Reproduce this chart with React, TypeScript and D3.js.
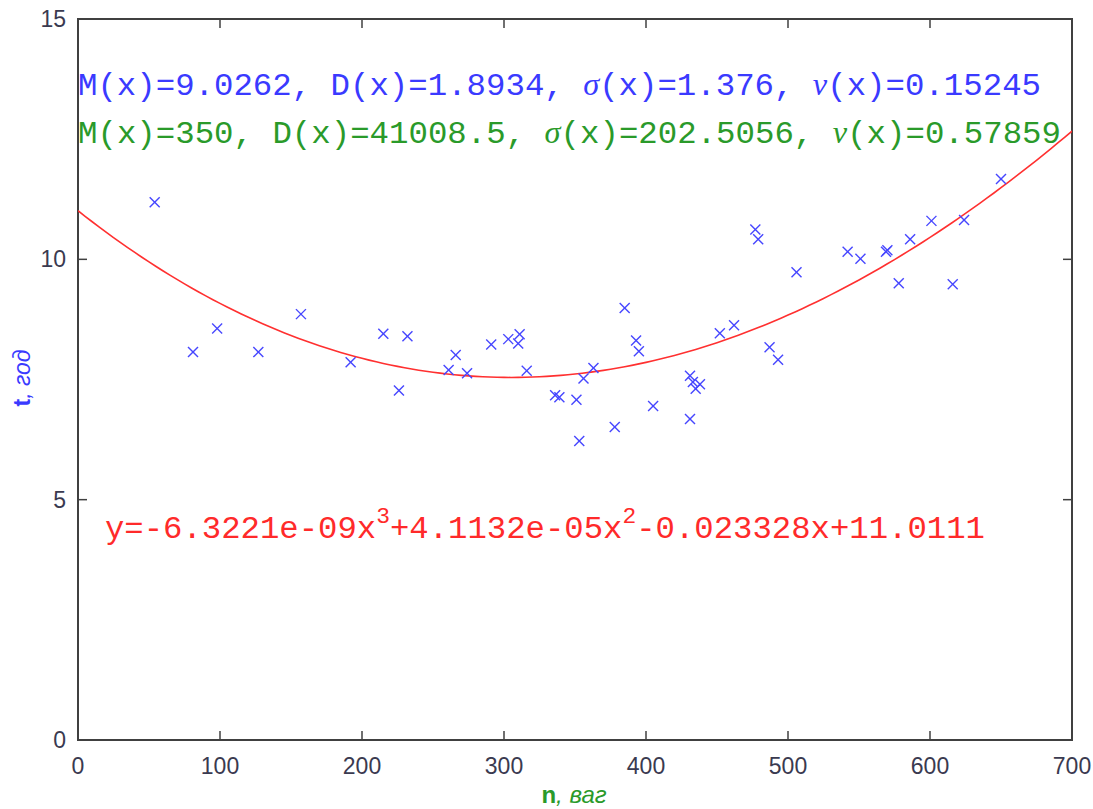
import React from "react";
import * as d3 from "d3";

const nValues = [54, 81, 98, 127, 157, 192, 215, 226, 232, 261, 266, 274, 291, 303, 311, 310, 316, 336, 339, 351, 353, 356, 363, 378, 385, 393, 395, 405, 431, 431, 433, 435, 438, 452, 462, 477, 479, 487, 493, 506, 542, 551, 569, 570, 578, 586, 601, 616, 624, 650];
const tValues = [11.19, 8.07, 8.56, 8.07, 8.86, 7.86, 8.45, 7.27, 8.4, 7.7, 8.01, 7.63, 8.23, 8.34, 8.44, 8.25, 7.68, 7.17, 7.13, 7.08, 6.22, 7.52, 7.74, 6.51, 8.99, 8.31, 8.09, 6.95, 6.68, 7.58, 7.45, 7.31, 7.4, 8.46, 8.63, 10.62, 10.42, 8.17, 7.91, 9.73, 10.16, 10.01, 10.16, 10.19, 9.5, 10.42, 10.8, 9.48, 10.82, 11.67];
const fitCoeffs = [11.0111, -0.023328, 4.1132e-5, -6.3221e-9];
const xTicks = [0, 100, 200, 300, 400, 500, 600, 700];
const yTicks = [0, 5, 10, 15];
const statsT = ["M(x)=9.0262, D(x)=1.8934, ", "σ", "(x)=1.376, ", "ν", "(x)=0.15245"];
const statsN = ["M(x)=350, D(x)=41008.5, ", "σ", "(x)=202.5056, ", "ν", "(x)=0.57859"];

const W = 1093, H = 809;
const L = 78, R = 1072, T = 19, B = 740;

export default function App() {
  const x = d3.scaleLinear().domain([0, 700]).range([L, R]);
  const y = d3.scaleLinear().domain([0, 15]).range([B, T]);
  const poly = (v: number) => fitCoeffs.reduce((s, c, i) => s + c * Math.pow(v, i), 0);
  const samples = d3.range(0, 701, 5);
  const line = d3.line<number>().x((d) => x(d)).y((d) => y(poly(d)))(samples) || "";
  const axisColor = "#404040";
  const mono = "'Liberation Mono', 'DejaVu Sans Mono', monospace";
  const sans = "'Liberation Sans', Arial, sans-serif";
  const greek = { fontFamily: "'Liberation Serif', serif", fontStyle: "italic" as const };
  const tick = 9;
  const statLine = (parts: string[], yy: number, color: string, len: number) => (
    <text x={L} y={yy} fill={color} fontFamily={mono} fontSize={31} textLength={len} lengthAdjust="spacingAndGlyphs">
      {parts.map((p, i) =>
        p === "σ" || p === "ν" ? (
          <tspan key={i} style={greek}>{p}</tspan>
        ) : (
          <tspan key={i}>{p}</tspan>
        )
      )}
    </text>
  );
  return (
    <svg width={W} height={H} style={{ position: "absolute", left: 0, top: 0, background: "#fff" }}>
      <defs>
        <clipPath id="plot">
          <rect x={L} y={T} width={R - L} height={B - T} />
        </clipPath>
      </defs>
      <rect x={0} y={0} width={W} height={H} fill="#fff" />
      {xTicks.map((t) => (
        <g key={"x" + t}>
          <line x1={x(t)} x2={x(t)} y1={B} y2={B - tick} stroke={axisColor} strokeWidth={1.5} />
          <line x1={x(t)} x2={x(t)} y1={T} y2={T + tick} stroke={axisColor} strokeWidth={1.5} />
          <text x={x(t)} y={774} textAnchor="middle" fill="#3a3a50" fontFamily={sans} fontSize={23}>{t}</text>
        </g>
      ))}
      {yTicks.map((t) => (
        <g key={"y" + t}>
          <line x1={L} x2={L + tick} y1={y(t)} y2={y(t)} stroke={axisColor} strokeWidth={1.5} />
          <line x1={R} x2={R - tick} y1={y(t)} y2={y(t)} stroke={axisColor} strokeWidth={1.5} />
          <text x={66} y={y(t) + 8} textAnchor="end" fill="#3a3a50" fontFamily={sans} fontSize={23}>{t}</text>
        </g>
      ))}
      <rect x={L} y={T} width={R - L} height={B - T} fill="none" stroke={axisColor} strokeWidth={2} />
      <path d={line} fill="none" stroke="#ff3030" strokeWidth={1.6} clipPath="url(#plot)" />
      {nValues.map((n, i) => {
        const cx = x(n), cy = y(tValues[i]);
        const s = 5;
        return (
          <g key={"p" + i} stroke="#4646ff" strokeWidth={1.4}>
            <line x1={cx - s} y1={cy - s} x2={cx + s} y2={cy + s} />
            <line x1={cx - s} y1={cy + s} x2={cx + s} y2={cy - s} />
          </g>
        );
      })}
      {statLine(statsT, 95, "#3a3aff", 963)}
      {statLine(statsN, 143, "#2a9a2a", 983)}
      <text x={105} y={538} fill="#ff2a2a" fontFamily={mono} fontSize={31} textLength={880} lengthAdjust="spacingAndGlyphs">
        <tspan>y=-6.3221e-09x</tspan>
        <tspan fontSize={22} dy={-15}>3</tspan>
        <tspan dy={15}>+4.1132e-05x</tspan>
        <tspan fontSize={22} dy={-15}>2</tspan>
        <tspan dy={15}>-0.023328x+11.0111</tspan>
      </text>
      <text x={574} y={803} textAnchor="middle" fill="#2a9a2a" fontFamily={sans} fontSize={24}>
        <tspan fontWeight="bold">n</tspan>
        <tspan fontStyle="italic">, ваг</tspan>
      </text>
      <text transform="translate(30,378) rotate(-90)" textAnchor="middle" fill="#3a3aff" fontFamily={sans} fontSize={23}>
        <tspan fontWeight="bold">t</tspan>
        <tspan fontStyle="italic">, год</tspan>
      </text>
    </svg>
  );
}
